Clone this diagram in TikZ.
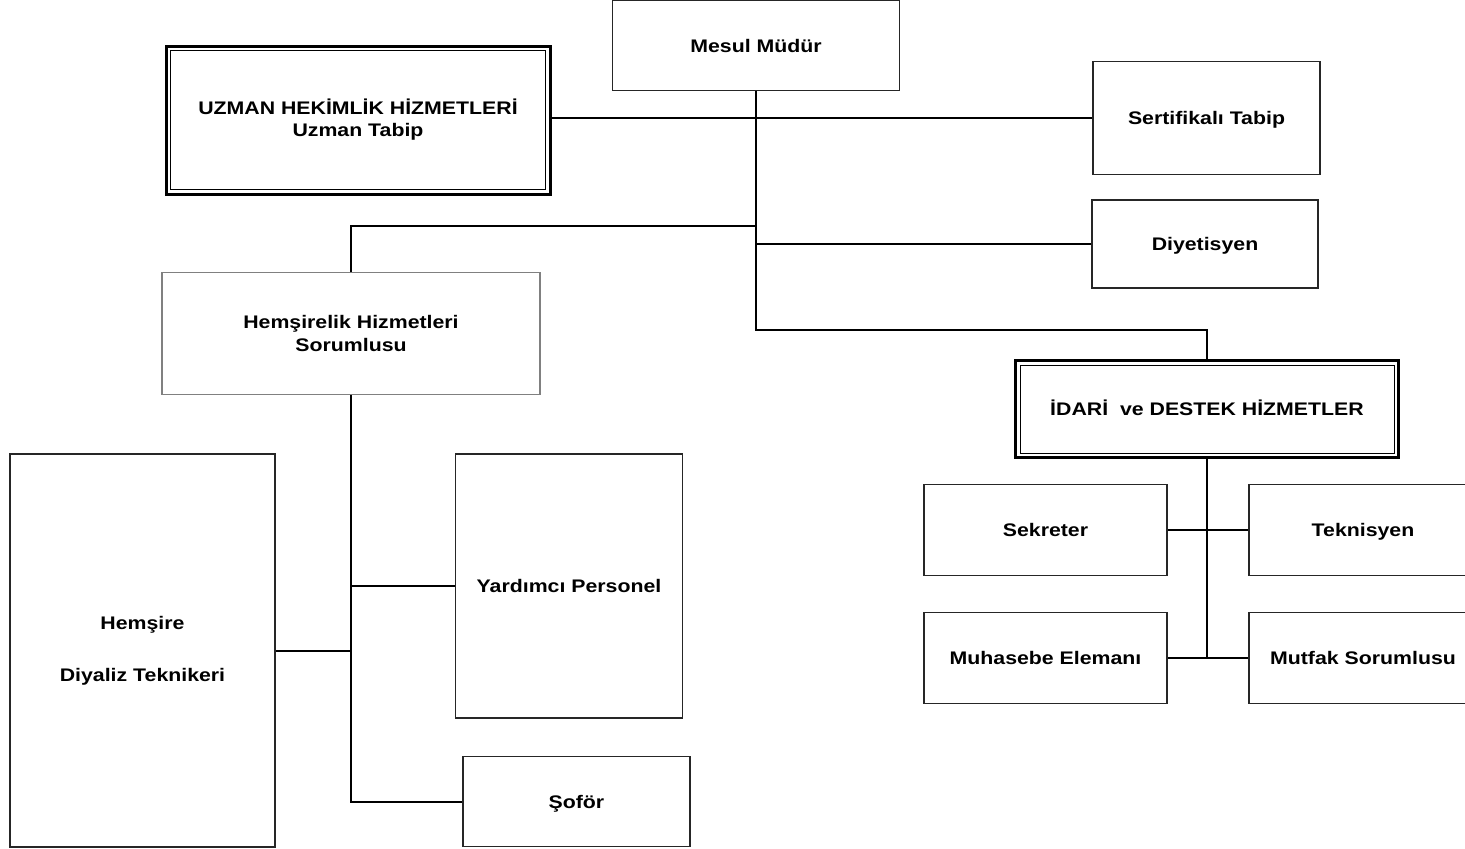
\documentclass[tikz,border=0pt]{standalone}
\usepackage{fontspec}
\newfontfamily\orgfont{Liberation Sans}[FakeStretch=1.17]
\begin{document}
\begin{tikzpicture}[x=1pt,y=-1pt,
        every node/.style={font=\orgfont\bfseries\fontsize{18.2}{20}\selectfont, align=center, inner sep=0pt},
        unit/.style={draw=black!85, line width=1.5pt},
        softunit/.style={draw=black!50, line width=1.5pt},
        headunit/.style={draw=black, line width=3pt},
        oneline/.style={text height=13pt, text depth=0pt},
        link/.style={draw=black, line width=1.6pt}]
    \useasboundingbox (0,0) rectangle (1465,849);
    % top level
    \node[unit, oneline, minimum width=287pt, minimum height=90pt] (mesul) at (756,45.6) {Mesul Müdür};
    \node[headunit, minimum width=384pt, minimum height=148pt] (uzman) at (358,120) {UZMAN HEKİMLİK HİZMETLERİ\\[2pt]Uzman Tabip};
    \draw[line width=1pt] ([shift={(6,6)}]uzman.north west) rectangle ([shift={(-6,-6)}]uzman.south east);
    \node[unit, oneline, minimum width=227pt, minimum height=113pt] (sert) at (1206.5,118) {Sertifikalı Tabip};
    \node[unit, oneline, minimum width=226pt, minimum height=88pt] (diyet) at (1205,244) {Diyetisyen};
    \node[softunit, minimum width=378pt, minimum height=122pt] (hemsor) at (351,333.3) {Hemşirelik Hizmetleri\\[3pt]Sorumlusu};
    \node[headunit, oneline, minimum width=383pt, minimum height=97pt] (idari) at (1207,409) {İDARİ\ \ ve DESTEK HİZMETLER};
    \draw[line width=1pt] ([shift={(6,6)}]idari.north west) rectangle ([shift={(-6,-6)}]idari.south east);
    % nursing side
    \node[unit, minimum width=265pt, minimum height=393pt] (hems) at (142.5,650.7) {Hemşire\\[32pt]Diyaliz Teknikeri};
    \node[unit, oneline, minimum width=227pt, minimum height=264pt] (yard) at (569,586) {Yardımcı Personel};
    \node[unit, oneline, minimum width=227pt, minimum height=90pt] (sofor) at (576.4,801.7) {Şoför};
    % support side
    \node[unit, oneline, minimum width=243pt, minimum height=91pt] (sekr) at (1045.5,530) {Sekreter};
    \node[unit, oneline, minimum width=228pt, minimum height=91pt] (tekn) at (1363,530) {Teknisyen};
    \node[unit, oneline, minimum width=243pt, minimum height=91pt] (muh) at (1045.5,658) {Muhasebe Elemanı};
    \node[unit, oneline, minimum width=228pt, minimum height=91pt] (mutf) at (1363,658) {Mutfak Sorumlusu};
    % junctions
    \coordinate (hj) at (756,226);
    \coordinate (mtrunk) at (756,330);
    % connectors
    \draw[link] (mesul.south) -- (mtrunk) -| (idari.north);
    \draw[link] (sert.west -| uzman.east) -- (sert.west);
    \draw[link] (diyet.west -| mesul.south) -- (diyet.west);
    \draw[link] (hj) -| (hemsor.north);
    \draw[link] (hemsor.south) |- (sofor.west);
    \draw[link] (yard.west -| hemsor.south) -- (yard.west);
    \draw[link] (hems.east) -- (hems.east -| hemsor.south);
    \draw[link] (idari.south) |- (muh.east);
    \draw[link] (idari.south |- mutf.west) -- (mutf.west);
    \draw[link] (sekr.east) -- (tekn.west);
\end{tikzpicture}
\end{document}
